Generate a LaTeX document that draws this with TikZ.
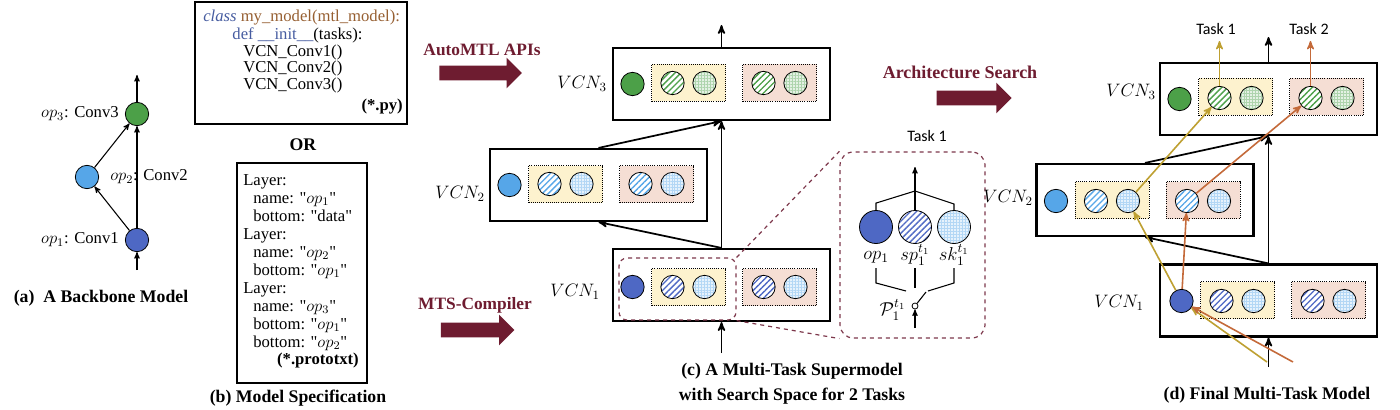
\RequirePackage{fix-cm}
\documentclass[tikz,border=0pt]{standalone}
\usepackage{amsmath}
\usepackage{fontspec}
\setmainfont{Liberation Serif}[Ligatures=TeXOff]
\newfontfamily\taskfont{Carlito}
\usepackage{tikz}
\usetikzlibrary{arrows,positioning,shapes.arrows,patterns.meta}
\definecolor{opdark}{RGB}{78,104,196}
\definecolor{oplight}{RGB}{86,166,232}
\definecolor{opgreen}{RGB}{76,160,72}
\definecolor{yellowbg}{RGB}{253,242,206}
\definecolor{pinkbg}{RGB}{245,222,212}
\definecolor{stepred}{RGB}{110,28,48}
\definecolor{zoomred}{RGB}{125,55,75}
\definecolor{taskgold}{RGB}{190,160,50}
\definecolor{taskbrown}{RGB}{196,106,58}
\definecolor{codeblue}{RGB}{70,92,160}
\definecolor{codebrown}{RGB}{150,95,50}
\tikzset{>=stealth',
  op node/.style={circle,draw,fill=#1,minimum size=17.5pt,inner sep=0pt,line width=0.6pt},
  sp node/.style={circle,draw,minimum size=17.5pt,inner sep=0pt,line width=0.6pt,preaction={fill=white},pattern={Lines[angle=45,distance=3.2pt,line width=1pt]},pattern color=#1},
  sk node/.style={circle,draw,minimum size=17.5pt,inner sep=0pt,line width=0.6pt,preaction={fill=#1!15},pattern={Hatch[angle=0,distance=2.2pt,line width=0.3pt]},pattern color=#1!45},
  vcn box/.style={draw,line width=1.6pt,minimum width=162.75pt,minimum height=54pt,inner sep=0pt},
  task box/.style={draw,densely dotted,line width=0.6pt,fill=#1,minimum width=55.5pt,minimum height=27.75pt,inner sep=0pt},
  vcn label/.style={anchor=east,inner sep=0pt,font=\fontsize{13.5}{16}\selectfont},
  code box/.style={draw,line width=1.3pt,inner sep=0pt},
  link/.style={->,line width=1.3pt},
  thin link/.style={->,line width=0.8pt},
  task one/.style={->,line width=1.2pt,draw=taskgold},
  task two/.style={->,line width=1.2pt,draw=taskbrown},
  big arrow/.style={single arrow,fill=stepred,draw=none,minimum height=#1,inner xsep=0pt,inner ysep=5.25pt,single arrow head extend=6pt},
  step label/.style={text=stepred,font=\fontsize{13}{15}\selectfont\bfseries},
  sub caption/.style={font=\fontsize{13.3}{14.3}\selectfont\bfseries,align=center},
  zoom box/.style={draw=zoomred,dashed,line width=0.9pt,inner sep=0pt,rounded corners=#1},
  zoom line/.style={draw=zoomred,dashed,line width=0.9pt},
  switch node/.style={circle,draw,fill=white,minimum size=4.5pt,inner sep=0pt,line width=0.6pt}}

\begin{document}
\begin{tikzpicture}[x=0.75pt,y=-0.75pt,font=\fontsize{12.5}{14}\selectfont]
  \useasboundingbox (0,0) rectangle (1400,410);

  % (a) backbone
  \node[op node=opgreen] (b3) at (137,114) {};
  \node[op node=oplight] (b2) at (87,177) {};
  \node[op node=opdark] (b1) at (137,240) {};
  \coordinate (bin) at (137,270);
  \coordinate (bout) at (137,75);
  \draw[thin link] (bin) -- (b1);
  \draw[thin link] (b1) -- (b2);
  \draw[thin link] (b2) -- (b3);
  \draw[thin link] (b1) -- (b3);
  \draw[thin link] (b3) -- (bout);
  \node[anchor=east,inner sep=0pt] (b3lab) at (119,114) {$op_3$: Conv3};
  \node[anchor=west,inner sep=0pt] (b2lab) at (110,177) {$op_2$: Conv2};
  \node[anchor=east,inner sep=0pt] (b1lab) at (119,240) {$op_1$: Conv1};
  \node[sub caption] (capa) at (101,298) {(a)\ \ A Backbone Model};

  % (b) model specification
  \node[code box,minimum width=159pt,minimum height=91.5pt] (pyfile) at (301,63) {};
  \node[anchor=north west,align=left,inner sep=0pt,font=\fontsize{12.5}{12.4}\selectfont] (pycode) at (203,10)
    {{\color{codeblue}\itshape class} {\color{codebrown}my\_model(mtl\_model):}\\[1pt]
     \hspace*{1.75em}{\color{codeblue}def \_\_init\_\_}(tasks):\\
     \hspace*{2.4em}VCN\_Conv1()\\
     \hspace*{2.4em}VCN\_Conv2()\\
     \hspace*{2.4em}VCN\_Conv3()};
  \node[anchor=east,inner sep=0pt,font=\fontsize{12.5}{14}\selectfont\bfseries] (pyext) at (403,107) {(*.py)};
  \node[font=\fontsize{13.3}{15}\selectfont\bfseries] (orlab) at (303,145) {OR};
  \node[code box,minimum width=97.5pt,minimum height=165pt] (protofile) at (302,273) {};
  \node[anchor=north west,align=left,inner sep=0pt,font=\fontsize{12.5}{13.5}\selectfont] (protocode) at (243,174)
    {Layer:\\
     \hspace*{0.6em}name: "$op_1$"\\
     \hspace*{0.6em}bottom: "data"\\
     Layer:\\
     \hspace*{0.6em}name: "$op_2$"\\
     \hspace*{0.6em}bottom: "$op_1$"\\
     Layer:\\
     \hspace*{0.6em}name: "$op_3$"\\
     \hspace*{0.6em}bottom: "$op_1$"\\
     \hspace*{0.6em}bottom: "$op_2$"};
  \node[anchor=east,inner sep=0pt,font=\fontsize{12.5}{14}\selectfont\bfseries] (protoext) at (359,360) {(*.prototxt)};
  \node[sub caption] (capb) at (298,398) {(b) Model Specification};

  % compile steps
  \node[step label] (apilab) at (482,50) {AutoMTL APIs};
  \node[big arrow=62pt] (apiarrow) at (477,73) {};
  \node[step label] (mtslab) at (475,305) {MTS-Compiler};
  \node[big arrow=55pt] (mtsarrow) at (474,330) {};
  \node[step label,font=\fontsize{13.5}{15}\selectfont\bfseries] (searchlab) at (960,72) {Architecture Search};
  \node[big arrow=56.25pt] (searcharrow) at (970.5,98) {};

  % (c) supermodel
  \node[vcn box] (s3) at (721.5,84) {};
  \node[op node=opgreen] (s3op) at (632.5,84) {};
  \node[task box=yellowbg] (s3y) at (688.5,83) {};
  \node[sp node=opgreen] (s3ysp) at (672.5,83) {};
  \node[sk node=opgreen] (s3ysk) at (704.5,83) {};
  \node[task box=pinkbg] (s3p) at (779.5,83) {};
  \node[sp node=opgreen] (s3psp) at (763.5,83) {};
  \node[sk node=opgreen] (s3psk) at (795.5,83) {};
  \node[vcn label] (s3lab) at (607,84) {$VCN_3$};

  \node[vcn box] (s2) at (598.5,185) {};
  \node[op node=oplight] (s2op) at (509.5,185) {};
  \node[task box=yellowbg] (s2y) at (565.5,184) {};
  \node[sp node=oplight] (s2ysp) at (549.5,184) {};
  \node[sk node=oplight] (s2ysk) at (581.5,184) {};
  \node[task box=pinkbg] (s2p) at (656.5,184) {};
  \node[sp node=oplight] (s2psp) at (640.5,184) {};
  \node[sk node=oplight] (s2psk) at (672.5,184) {};
  \node[vcn label] (s2lab) at (485,194) {$VCN_2$};

  \node[vcn box] (s1) at (721.5,285) {};
  \node[op node=opdark] (s1op) at (632.5,287) {};
  \node[task box=yellowbg] (s1y) at (688.5,287) {};
  \node[sp node=opdark] (s1ysp) at (672.5,287) {};
  \node[sk node=oplight] (s1ysk) at (704.5,287) {};
  \node[task box=pinkbg] (s1p) at (779.5,287) {};
  \node[sp node=opdark] (s1psp) at (763.5,287) {};
  \node[sk node=oplight] (s1psk) at (795.5,287) {};
  \node[vcn label] (s1lab) at (600,292) {$VCN_1$};

  \coordinate (sin) at (721.5,353);
  \coordinate (sout) at (721.5,25);
  \draw[link] (sin) -- (s1);
  \draw[link] (s1.north) -- (s2.south);
  \draw[link] (s1.north) -- (s3.south);
  \draw[link] (s2.north) -- (s3.south);
  \draw[link] (s3.north) -- (sout);

  % zoom into VCN_1 for task 1
  \node[zoom box=6pt,minimum width=87.75pt,minimum height=46.5pt] (zsmall) at (677.5,289) {};
  \node[zoom box=10pt,minimum width=108.75pt,minimum height=139.5pt] (zbig) at (912.5,245) {};
  \draw[zoom line] (zsmall.north east) -- (zbig.north west);
  \draw[zoom line] (zsmall.south east) -- (zbig.south west);

  \node[font=\taskfont\fontsize{12}{14}\selectfont] (ztask) at (927,136) {Task 1};
  \node[op node=opdark,minimum size=24.75pt] (zop) at (876,227) {};
  \node[sp node=opdark,minimum size=24.75pt] (zsp) at (915,227) {};
  \node[sk node=oplight,minimum size=24.75pt] (zsk) at (954,227) {};
  \node[font=\fontsize{14}{16}\selectfont] (zoplab) at (876,257) {$op_1$};
  \node[font=\fontsize{14}{16}\selectfont] (zsplab) at (915,255) {$sp_1^{t_1}$};
  \node[font=\fontsize{14}{16}\selectfont] (zsklab) at (954,255) {$sk_1^{t_1}$};
  \coordinate (zj) at (915,191);
  \coordinate (zout) at (915,167);
  \draw[line width=0.8pt] (zop.north) -- ++(0,-7) -- (zj) -- ++(39,13) -- (zsk.north);
  \draw[thin link] (zsp.north) -- (zout);

  \coordinate (wl) at (876,268);
  \coordinate (wm) at (915,268);
  \coordinate (wr) at (954,268);
  \coordinate (cl) at (906,291);
  \coordinate (cm) at (915,288);
  \coordinate (cr) at (928,291);
  \node[switch node] (zsw) at (915,306) {};
  \coordinate (zswtip) at (926,292);
  \coordinate (zin) at (915,328);
  \draw[line width=0.8pt] (wl) -- ++(0,15) -- (cl);
  \draw[line width=0.8pt] (wm) -- (cm);
  \draw[line width=0.8pt] (wr) -- ++(0,15) -- (cr);
  \draw[line width=0.8pt] (zsw) -- (zswtip);
  \draw[thin link] (zin) -- (zsw);
  \node[anchor=east,inner sep=0pt,font=\fontsize{14}{16}\selectfont] (zplab) at (906,310) {$\mathcal{P}_1^{t_1}$};

  \node[sub caption,font=\fontsize{13.3}{19}\selectfont\bfseries] (capc) at (792,384)
    {(c) A Multi-Task Supermodel\\with Search Space for 2 Tasks};

  % (d) final model
  \node[vcn box] (f3) at (1268.5,99) {};
  \node[op node=opgreen] (f3op) at (1179.5,99) {};
  \node[task box=yellowbg] (f3y) at (1235.5,97) {};
  \node[sp node=opgreen] (f3ysp) at (1219.5,98) {};
  \node[sk node=opgreen] (f3ysk) at (1251.5,98) {};
  \node[task box=pinkbg] (f3p) at (1326.5,97) {};
  \node[sp node=opgreen] (f3psp) at (1310.5,98) {};
  \node[sk node=opgreen] (f3psk) at (1342.5,98) {};
  \node[vcn label] (f3lab) at (1156,92) {$VCN_3$};

  \node[vcn box] (f2) at (1145,200) {};
  \node[op node=oplight] (f2op) at (1056,201) {};
  \node[task box=yellowbg] (f2y) at (1112,200) {};
  \node[sp node=oplight] (f2ysp) at (1096,201) {};
  \node[sk node=oplight] (f2ysk) at (1128,201) {};
  \node[task box=pinkbg] (f2p) at (1203,200) {};
  \node[sp node=oplight] (f2psp) at (1187,201) {};
  \node[sk node=oplight] (f2psk) at (1219,201) {};
  \node[vcn label] (f2lab) at (1033,198) {$VCN_2$};

  \node[vcn box] (f1) at (1268.5,300.5) {};
  \node[op node=opdark] (f1op) at (1181.5,301) {};
  \node[task box=yellowbg] (f1y) at (1237.5,300) {};
  \node[sp node=opdark] (f1ysp) at (1221.5,301) {};
  \node[sk node=oplight] (f1ysk) at (1253.5,301) {};
  \node[task box=pinkbg] (f1p) at (1328.5,300) {};
  \node[sp node=opdark] (f1psp) at (1312.5,301) {};
  \node[sk node=oplight] (f1psk) at (1344.5,301) {};
  \node[vcn label] (f1lab) at (1144,303) {$VCN_1$};

  \coordinate (fin) at (1268.5,367);
  \coordinate (fout) at (1268.5,37);
  \draw[link] (fin) -- (f1);
  \draw[link] (f1.north) -- (f2.south);
  \draw[link] (f1.north) -- (f3.south);
  \draw[link] (f2.north) -- (f3.south);
  \draw[link] (f3.north) -- (fout);

  \node[font=\taskfont\fontsize{12}{14}\selectfont] (t1lab) at (1216,29) {Task 1};
  \node[font=\taskfont\fontsize{12}{14}\selectfont] (t2lab) at (1309,29) {Task 2};
  \coordinate (gin) at (1267,362);
  \coordinate (gout) at (1219.5,41);
  \coordinate (brin) at (1293,362);
  \coordinate (brout) at (1310.5,41);
  \draw[task one] (gin) -- (f1op);
  \draw[task one] (f1op) -- (f2ysk);
  \draw[task one] (f2ysk) -- (f3ysp);
  \draw[task one] (f3ysp) -- (gout);
  \draw[task two] (brin) -- (f1op);
  \draw[task two] (f1op) -- (f2psp);
  \draw[task two] (f2psp) -- (f3psp);
  \draw[task two] (f3psp) -- (brout);

  \node[sub caption] (capd) at (1267,395) {(d) Final Multi-Task Model};
\end{tikzpicture}
\end{document}
